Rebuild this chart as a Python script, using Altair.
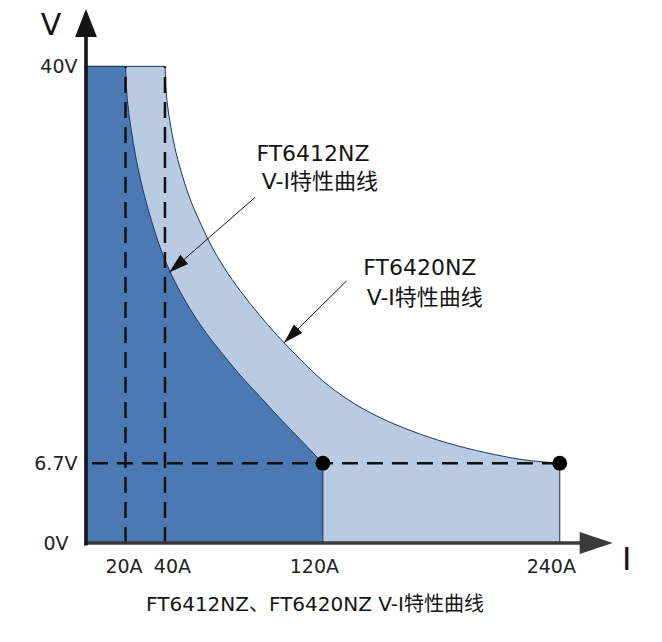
import altair as alt
import pandas as pd

# ---- data ----
# FT6412NZ V-I curve (current A, voltage V)
i_6412 = [0, 20, 20.5, 21.5, 23, 25, 27.5, 30.5, 34, 38, 42.5, 48, 54, 61, 69, 78, 88, 98, 109, 120]
v_6412 = [40, 40, 38.2, 36.4, 34.6, 32.6, 30.6, 28.6, 26.6, 24.6, 22.8, 21.0, 19.3, 17.6, 15.9, 14.1, 12.3, 10.5, 8.6, 6.7]
# FT6420NZ V-I curve
i_6420 = [0, 40, 40.5, 41.5, 43, 45, 48, 52, 57, 63, 70, 78, 87, 97, 108, 120, 133, 148, 165, 183, 202, 221, 240]
v_6420 = [40, 40, 38.2, 36.5, 34.9, 33.2, 31.3, 29.2, 27.2, 25.1, 23.1, 21.2, 19.3, 17.4, 15.5, 13.6, 12.0, 10.6, 9.4, 8.4, 7.6, 7.0, 6.7]

# corner points (end of curves)
dot_i = [120, 240]
dot_v = [6.7, 6.7]

# dashed guide lines
vguide_i = [20, 40]
vguide_top = [40, 40]
hguide_v = [6.7]
hguide_from = [3]
hguide_to = [240]

# tick labels
x_ticks = [20, 40, 120, 240]
y_ticks = [0, 6.7, 40]

# annotation arrows (start -> tip)
arr_i0 = [85.6, 132.0]
arr_v0 = [29.0, 22.0]
arr_i1 = [42.1, 100.3]
arr_v1 = [22.7, 16.8]
arr_angle = [229, 225]

# texts
txt_label = ["FT6412NZ", "V-I特性曲线", "FT6420NZ", "V-I特性曲线",
             "V", "I", "FT6412NZ、FT6420NZ V-I特性曲线"]
txt_i = [115.0, 118.5, 169.1, 171.6, -17.7, 273.9, 116.0]
txt_v = [32.65, 30.3, 23.1, 20.6, 43.4, -1.45, -5.2]
txt_size = [22, 22, 22, 22, 30, 32, 20]

FONT = "DejaVu Sans, Noto Sans CJK SC, sans-serif"
DARK = "#4a79b3"
LIGHT = "#b9cbe3"
EDGE = "#1c355e"

xs = alt.Scale(domain=[0, 270], nice=False, zero=False)
ys = alt.Scale(domain=[0, 44.9], nice=False, zero=False)

XAXIS = alt.Axis(values=x_ticks, labelExpr="datum.value + 'A'",
                 domain=False, ticks=False, grid=False,
                 labelFont=FONT, labelFontSize=19, labelColor="#222222",
                 labelPadding=14, title=None,
                 labelOffset={"condition": [
                     {"test": "datum.value == 40", "value": 7},
                     {"test": "datum.value >= 120", "value": -9}],
                     "value": -2})
YAXIS = alt.Axis(values=y_ticks, labelExpr="datum.value + 'V'",
                 domain=False, ticks=False, grid=False,
                 labelFont=FONT, labelFontSize=19, labelColor="#222222",
                 title=None,
                 labelPadding={"condition": {"test": "datum.value == 0", "value": 18},
                               "value": 9})


def X(field):
    return alt.X(field, scale=xs, axis=XAXIS, title=None)


def Y(field):
    return alt.Y(field, scale=ys, axis=YAXIS, title=None)


df_6412 = pd.DataFrame({"I": i_6412, "V": v_6412})
df_6420 = pd.DataFrame({"I": i_6420, "V": v_6420})

light = alt.Chart(df_6420).mark_area(
    fill=LIGHT, stroke=EDGE, strokeWidth=1, interpolate="monotone"
).encode(x=X("I:Q"), y=Y("V:Q"))

dark = alt.Chart(df_6412).mark_area(
    fill=DARK, stroke=EDGE, strokeWidth=1, interpolate="monotone"
).encode(x=X("I:Q"), y=Y("V:Q"))

vg = alt.Chart(pd.DataFrame({"I": vguide_i, "V": [0, 0], "V2": vguide_top})).mark_rule(
    color="#111111", strokeWidth=2.5, strokeDash=[16, 9]
).encode(x=X("I:Q"), y=Y("V:Q"), y2="V2:Q")

hg = alt.Chart(pd.DataFrame({"I": hguide_from, "I2": hguide_to, "V": hguide_v})).mark_rule(
    color="#111111", strokeWidth=2.5, strokeDash=[16, 9]
).encode(x=X("I:Q"), x2="I2:Q", y=Y("V:Q"))

# axis lines with arrowheads
yaxis_line = alt.Chart(pd.DataFrame({"I": [0], "V": [-0.2], "V2": [42.6]})).mark_rule(
    color="#151515", strokeWidth=3.6
).encode(x=X("I:Q"), y=Y("V:Q"), y2="V2:Q")

xaxis_line = alt.Chart(pd.DataFrame({"I": [-0.9], "I2": [252], "V": [0]})).mark_rule(
    color="#3a3a3a", strokeWidth=3.6
).encode(x=X("I:Q"), x2="I2:Q", y=Y("V:Q"))

yaxis_head = alt.Chart(pd.DataFrame({"I": [0], "V": [44.82]})).mark_point(
    shape="M0,0L0.78,2L-0.78,2Z", size=784, filled=True, opacity=1, color="#151515"
).encode(x=X("I:Q"), y=Y("V:Q"))

xaxis_head = alt.Chart(pd.DataFrame({"I": [266.8], "V": [0]})).mark_point(
    shape="M0,0L-2,0.67L-2,-0.67Z", size=1089, filled=True, opacity=1, color="#3a3a3a"
).encode(x=X("I:Q"), y=Y("V:Q"))

dots = alt.Chart(pd.DataFrame({"I": dot_i, "V": dot_v})).mark_circle(
    size=220, color="#000000", opacity=1
).encode(x=X("I:Q"), y=Y("V:Q"))

arr_df = pd.DataFrame({"I": arr_i0, "V": arr_v0, "I2": arr_i1, "V2": arr_v1,
                       "ang": arr_angle})
arr_lines = alt.Chart(arr_df).mark_rule(color="#111111", strokeWidth=1).encode(
    x=X("I:Q"), y=Y("V:Q"), x2="I2:Q", y2="V2:Q"
)
arr_heads = alt.Chart(arr_df).mark_point(
    shape="M0,0L0.6,2L-0.6,2Z", size=400, filled=True, opacity=1, color="#111111"
).encode(
    x=X("I2:Q"), y=Y("V2:Q"),
    angle=alt.Angle("ang:Q", scale=None),
)

texts = alt.Chart(pd.DataFrame({"I": txt_i, "V": txt_v, "t": txt_label, "s": txt_size})).mark_text(
    font=FONT, color="#151515", align="center", baseline="middle"
).encode(
    x=X("I:Q"), y=Y("V:Q"),
    text="t:N",
    size=alt.Size("s:Q", scale=None, legend=None),
)

chart = alt.layer(
    light, dark, vg, hg, xaxis_line, yaxis_line, xaxis_head, yaxis_head,
    dots, arr_lines, arr_heads, texts
).properties(
    width=533, height=535,
    autosize=alt.AutoSizeParams(type="none"),
    padding={"left": 78, "top": 0, "right": 30, "bottom": 80},
).configure_view(stroke=None)

chart.save("out.html", embed_options={"renderer": "svg", "actions": False})
